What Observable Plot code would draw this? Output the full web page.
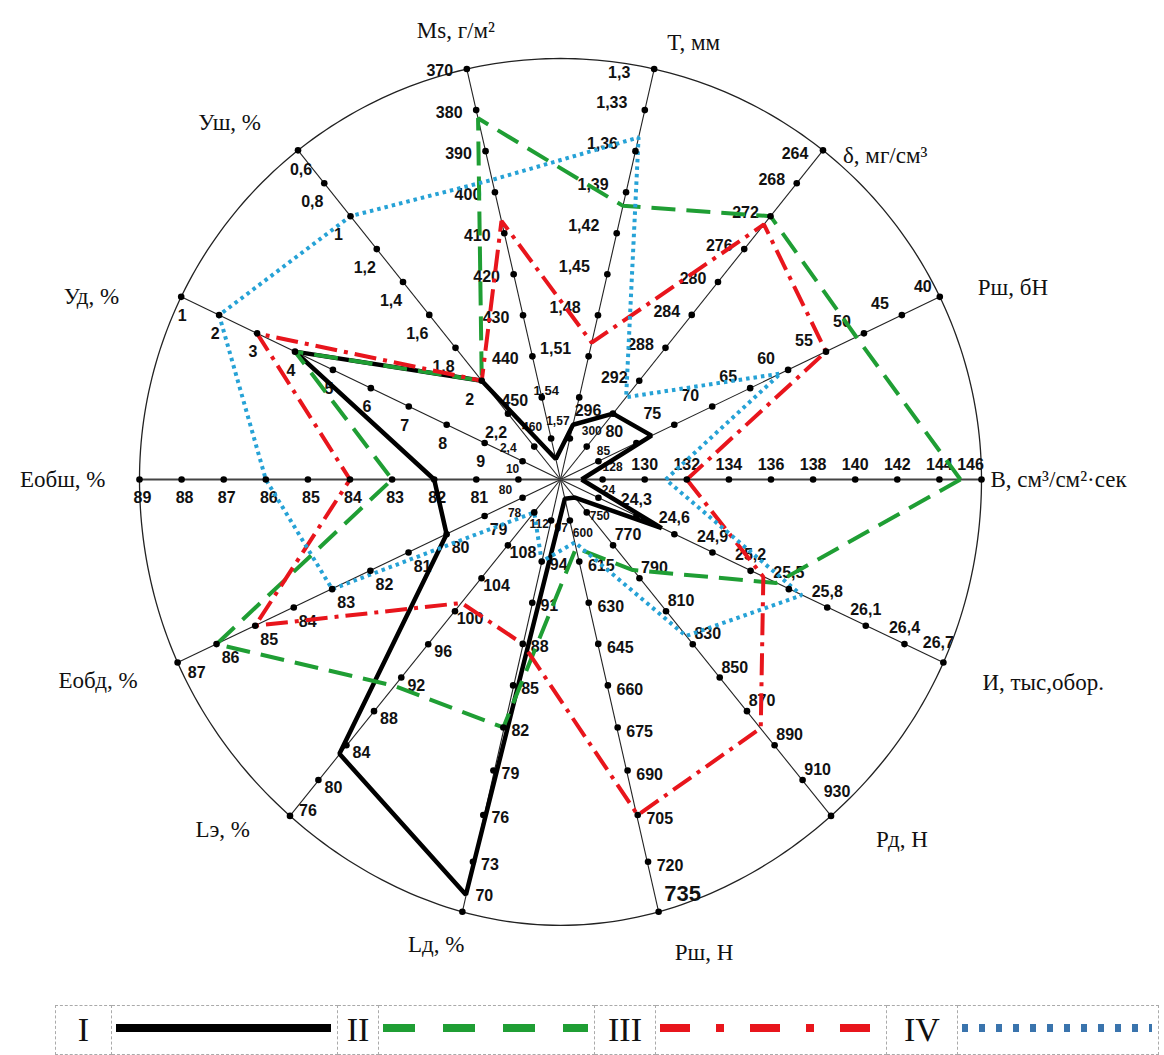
<!DOCTYPE html>
<html><head><meta charset="utf-8">
<script src="https://cdn.jsdelivr.net/npm/d3@7"></script>
<script src="https://cdn.jsdelivr.net/npm/@observablehq/plot@0.6"></script>
<style>
body{margin:0;background:#fff;width:1164px;height:1055px;overflow:hidden;position:relative}
#legend{position:absolute;left:55px;top:1005px}
#legend table{border-collapse:collapse}
#legend td{border:1px dashed #aaa;height:48px;padding:0;text-align:center;vertical-align:middle;font-family:"Liberation Serif",serif;font-size:34px;color:#111}
</style></head><body>
<div id="chart"></div>
<div id="legend"></div>
<script>
// ---------- data ----------
const axisNames = ["В, см³/см²·сек","Рш, бН","δ, мг/см³","T, мм","Ms, г/м²","Уш, %","Уд, %","Еобш, %","Еобд, %","Lэ, %","Lд, %","Рш, Н","Рд, Н","И, тыс,обор."];
const hubValues = [126, 90, 304, 1.60, 470, 2.6, 11, 79, 77, 116, 100, 585, 730, 23.7];
const rimValues = [146, 40, 264, 1.30, 370, 0.6, 1, 89, 87, 76, 70, 735, 930, 26.7];
const tickLabels = [
  ["128","130","132","134","136","138","140","142","144","146"],
  ["85","80","75","70","65","60","55","50","45","40"],
  ["300","296","292","288","284","280","276","272","268","264"],
  ["1,57","1,54","1,51","1,48","1,45","1,42","1,39","1,36","1,33","1,3"],
  ["460","450","440","430","420","410","400","390","380","370"],
  ["2,4","2,2","2","1,8","1,6","1,4","1,2","1","0,8","0,6"],
  ["10","9","8","7","6","5","4","3","2","1"],
  ["80","81","82","83","84","85","86","87","88","89"],
  ["78","79","80","81","82","83","84","85","86","87"],
  ["112","108","104","100","96","92","88","84","80","76"],
  ["97","94","91","88","85","82","79","76","73","70"],
  ["600","615","630","645","660","675","690","705","720","735"],
  ["750","770","790","810","830","850","870","890","910","930"],
  ["24","24,3","24,6","24,9","25,2","25,5","25,8","26,1","26,4","26,7"]
];
const seriesNames = ["I","II","III","IV"];
const valuesI   = [127, 78, 296, 1.56, 465, 2.0, 4, 82, 80, 83, 71, 592, 741, 24.5];
const valuesII  = [145, 51, 272, 1.40, 382, 2.0, 4, 83, 86, 91, 82, 610, 785, 25.4];
const valuesIII = [132, 55, 273, 1.50, 407, 2.0, 3, 84, 85, 101, 88, 705, 880, 25.3];
const valuesIV  = [131, 61, 294, 1.35, 397, 1.0, 2, 86, 83, 112, 94, 608, 825, 25.6];

// ---------- styles / layout ----------
const seriesStyle = [
  {stroke:"#000000", strokeWidth:4.5, dash:null},
  {stroke:"#1f9e34", strokeWidth:4, dash:"24,11"},
  {stroke:"#e8151c", strokeWidth:4, dash:"22,7,4,7"},
  {stroke:"#26a2d6", strokeWidth:4, dash:"3.5,4"}
];
const tickOffset  = [[0,-15],[-22,-11],[-25,-3],[-33,-7],[-27,3],[-12,19],[-4,19],[3,18],[14,14],[15,8],[17,3],[22,4],[15,-10],[0,-16]];
const innerOffset = [[10,-12],[5,-10],[5,-15],[-12,-17],[-19,-11],[-26,2],[-10,8],[-13,11],[-8,15],[5,12],[10,8],[13,13],[13,4],[10,-8]];
const rimOffset   = [[-11,-15],[-17,-10],[-28,4],[-35,4],[-27,2],[3,20],[1,19],[3,18],[19,10],[18,-5],[22,-16],[24,-18],[6,-24],[-5,-20]];
const titlePlace = [["start",9,0],["start",38,-9],["start",20,5],["start",13,-26],["middle",-11,-38],["end",-37,-28],["end",-62,0],["end",-34,0],["end",-40,18],["end",-40,14],["end",2,33],["start",16,41],["start",45,24],["start",39,20]];
// the scanned figure's lower half is slightly enlarged; mimic it
const warp = (x, y) => y >= 0 ? {x, y} : {x: x * (1 + 0.05 * y * y), y: y - 0.059 * Math.pow(-y, 5)};
const R = 421, cx = 560, cy = 479, yMin = -1.06;

// ---------- geometry ----------
const n = axisNames.length;
const angle = i => i * 2 * Math.PI / n;
const rScale = axisNames.map((_, i) => d3.scaleLinear().domain([hubValues[i], rimValues[i]]).range([0, 1]));
const unit = (t, a) => warp(t * Math.cos(a), t * Math.sin(a));
const pos = (i, v) => unit(rScale[i](v), angle(i));

const circle = d3.range(0, 361).map(a => unit(1, a * Math.PI / 180));
const spokes = axisNames.map((name, i) => ({i, name, ...pos(i, rimValues[i])}));
const ticks = axisNames.flatMap((name, i) => tickLabels[i].map((label, j) => {
  const k = j + 1;
  const value = hubValues[i] + (rimValues[i] - hubValues[i]) * k / 10;
  return {i, k, label, ...pos(i, value)};
}));
const allSeries = [valuesI, valuesII, valuesIII, valuesIV];
const polys = allSeries.map((vals, s) => {
  const pts = vals.map((v, i) => ({s, ...pos(i, v)}));
  return pts.concat([pts[0]]);
});

const sans = "Liberation Sans, Arial, sans-serif";
const marks = [
  Plot.line(circle, {x: "x", y: "y", stroke: "#222", strokeWidth: 1.3}),
  Plot.link(spokes.filter(d => d.i % 7 !== 0), {x1: () => 0, y1: () => 0, x2: "x", y2: "y", stroke: "#222", strokeWidth: 1.1}),
  Plot.link(spokes.filter(d => d.i % 7 === 0), {x1: () => 0, y1: () => 0, x2: "x", y2: "y", stroke: "#444", strokeWidth: 2.2})
];
for (let i = 0; i < n; i++) {
  marks.push(Plot.text(ticks.filter(d => d.i === i && d.k > 1 && d.k < 10), {
    x: "x", y: "y", text: "label", dx: tickOffset[i][0], dy: tickOffset[i][1],
    fontSize: d => (d.i === 3 && d.k === 2) ? 13 : 16,
    fontFamily: sans, fontWeight: "bold", fill: "#111"
  }));
  marks.push(Plot.text(ticks.filter(d => d.i === i && d.k === 1), {
    x: "x", y: "y", text: "label", dx: innerOffset[i][0], dy: innerOffset[i][1],
    fontSize: 12, fontFamily: sans, fontWeight: "bold", fill: "#111"
  }));
  marks.push(Plot.text(ticks.filter(d => d.i === i && d.k === 10), {
    x: "x", y: "y", text: "label", dx: rimOffset[i][0], dy: rimOffset[i][1],
    fontSize: i === 11 ? 22 : 16, fontFamily: sans, fontWeight: "bold", fill: "#111"
  }));
}
polys.forEach((p, s) => {
  const st = seriesStyle[s];
  marks.push(Plot.line(p, {x: "x", y: "y", stroke: st.stroke, strokeWidth: st.strokeWidth,
    strokeDasharray: st.dash || undefined, strokeLinejoin: "miter", strokeLinecap: "butt"}));
});
marks.push(Plot.dot(ticks, {x: "x", y: "y", r: 3.3, fill: "#000", stroke: "none"}));
for (let i = 0; i < n; i++) {
  const [anchor, dx, dy] = titlePlace[i];
  marks.push(Plot.text([spokes[i]], {x: "x", y: "y", text: "name", textAnchor: anchor, dx, dy,
    fontSize: 23, fontFamily: "Liberation Serif, Times New Roman, serif", fill: "#111"}));
}

const chart = Plot.plot({
  width: 1164, height: 1000,
  x: {domain: [-1, 1], range: [cx - R, cx + R], axis: null},
  y: {domain: [yMin, 1], range: [cy - yMin * R, cy - R], axis: null},
  style: {background: "white", overflow: "visible"},
  marks
});
document.getElementById("chart").appendChild(chart);

// ---------- legend ----------
const legendStyle = [
  {w: 225, dash: null, color: "#000"},
  {w: 215, dash: "32,28", color: "#1f9e34"},
  {w: 230, dash: "30,26,8,26", color: "#e8151c"},
  {w: 200, dash: "6,11", color: "#3a74ad"}
];
const labelW = [55, 40, 60, 70];
const tr = d3.select("#legend").append("table").append("tr");
seriesNames.forEach((name, s) => {
  tr.append("td").style("width", labelW[s] + "px").text(name);
  const st = legendStyle[s];
  const svg = tr.append("td").style("width", st.w + "px").append("svg")
    .attr("width", st.w).attr("height", 20).style("display", "block");
  svg.append("line").attr("x1", 4).attr("x2", st.w - 6).attr("y1", 8).attr("y2", 8)
    .attr("stroke", st.color).attr("stroke-width", 8).attr("stroke-dasharray", st.dash);
});
</script>
</body></html>
